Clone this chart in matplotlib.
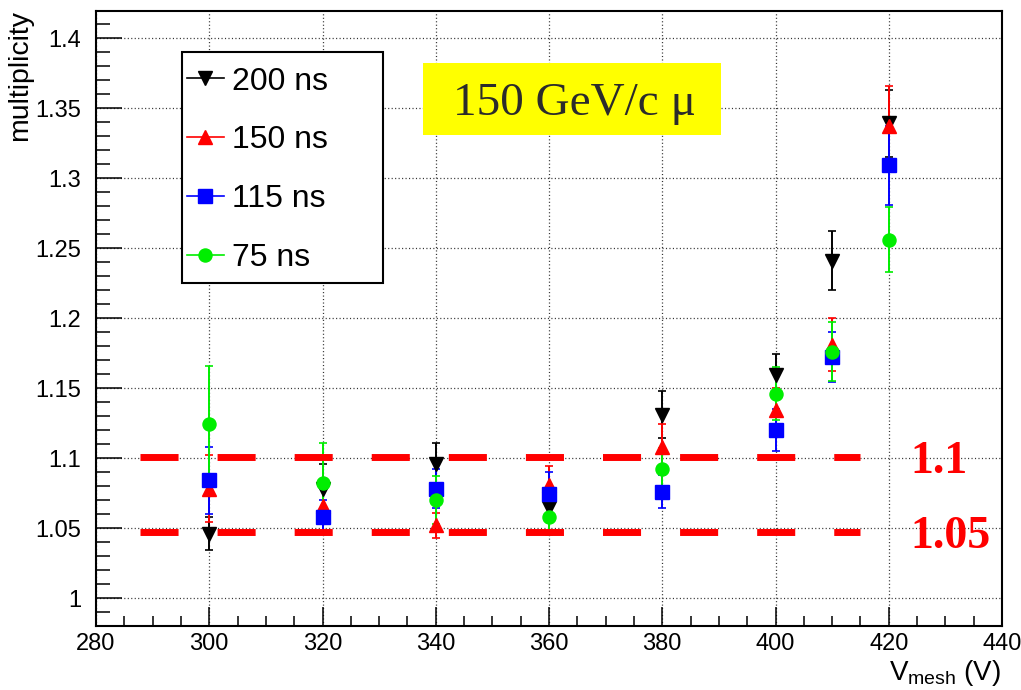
import matplotlib
matplotlib.use('Agg')
import matplotlib.pyplot as plt
from matplotlib.lines import Line2D
from matplotlib.patches import Rectangle
from matplotlib.ticker import MultipleLocator, FuncFormatter

plt.rcParams['font.family'] = ['Liberation Sans', 'DejaVu Sans']
plt.rcParams['mathtext.fontset'] = 'custom'
plt.rcParams['mathtext.rm'] = 'Liberation Sans'
plt.rcParams['mathtext.it'] = 'Liberation Sans:italic'
plt.rcParams['lines.scale_dashes'] = False

# ---------------- data ----------------
vmesh = [300, 320, 340, 360, 380, 400, 410, 420]

labels = ['200 ns', '150 ns', '115 ns', '75 ns']
colors = ['#000000', '#ff0000', '#0000ff', '#00ee00']
markers = ['v', '^', 's', 'o']

mult_200 = [1.046, 1.078, 1.096, 1.064, 1.131, 1.159, 1.241, 1.339]
err_200 = [0.012, 0.018, 0.015, 0.010, 0.017, 0.015, 0.021, 0.024]

mult_150 = [1.078, 1.066, 1.052, 1.081, 1.108, 1.134, 1.181, 1.337]
err_150 = [0.024, 0.018, 0.009, 0.013, 0.016, 0.016, 0.019, 0.029]

mult_115 = [1.084, 1.058, 1.078, 1.074, 1.076, 1.120, 1.172, 1.309]
err_115 = [0.024, 0.012, 0.014, 0.016, 0.012, 0.015, 0.018, 0.028]

mult_75 = [1.124, 1.082, 1.070, 1.058, 1.092, 1.146, 1.176, 1.256]
err_75 = [0.042, 0.029, 0.017, 0.013, 0.015, 0.019, 0.021, 0.023]

values = [mult_200, mult_150, mult_115, mult_75]
errors = [err_200, err_150, err_115, err_75]

ref_levels = [1.101, 1.047]
ref_labels = ['1.1', '1.05']
ref_xrange = [287.8, 415.0]

beam_text = '150 GeV/c \u03bc'

# ---------------- figure ----------------
W, H = 1021, 690
fig = plt.figure(figsize=(W / 100, H / 100), dpi=100)
ax = fig.add_axes([96 / W, 1 - 626 / H, (1002 - 96) / W, (626 - 11) / H])

ax.set_xlim(280, 440)
ax.set_ylim(0.98, 1.4193)

for vals, errs, c, m in zip(values, errors, colors, markers):
    ax.errorbar(vmesh, vals, yerr=errs, fmt=m, color=c, mfc=c, mec=c,
                ms=9.4, elinewidth=1.4, capsize=2.6, capthick=1.2,
                linestyle='none', zorder=3)

for lvl in ref_levels:
    ax.plot(ref_xrange, [lvl, lvl], color='#ff0000', lw=5.0,
            dashes=(27.4, 28.1), dash_capstyle='butt', solid_capstyle='butt',
            zorder=4)

# axes styling
ax.xaxis.set_major_locator(MultipleLocator(20))
ax.xaxis.set_minor_locator(MultipleLocator(5))
ax.yaxis.set_major_locator(MultipleLocator(0.05))
ax.yaxis.set_minor_locator(MultipleLocator(0.01))
ax.yaxis.set_major_formatter(FuncFormatter(lambda v, p: '%g' % round(v, 3)))

ax.grid(True, which='major', color='#333333', linestyle=(0, (0.8, 1.7)),
        linewidth=0.9, zorder=0)
ax.set_axisbelow(True)

ax.tick_params(axis='y', which='major', direction='in', length=19, width=1.1,
               labelsize=17, pad=10.5)
ax.tick_params(axis='y', which='minor', direction='in', length=10, width=1.1)
ax.tick_params(axis='x', which='major', direction='in', length=13.7, width=1.1,
               labelsize=17, pad=5)
ax.tick_params(axis='x', which='minor', direction='in', length=7.2, width=1.1)
for s in ax.spines.values():
    s.set_linewidth(1.5)

# axis titles
fig.text(20 / W, 1 - 10 / H, 'multiplicity', rotation=90, ha='center',
         va='top', fontsize=20.5)
fig.text(1001 / W, 1 - 680 / H, r'V$_{\mathrm{mesh}}$ (V)', ha='right',
         va='baseline', fontsize=20)

# legend (frame drawn separately)
fig.patches.append(Rectangle((182 / W, 1 - 283 / H), (383 - 182) / W,
                             (283 - 52) / H, transform=fig.transFigure,
                             facecolor='white', edgecolor='black',
                             linewidth=1.5, zorder=5))
handles = [Line2D([], [], color=c, marker=m, markersize=9.4, lw=1.2,
                  mfc=c, mec=c) for c, m in zip(colors, markers)]
leg = fig.legend(handles, labels, loc='upper left',
                 bbox_to_anchor=(187 / W, 1 - 66.6 / H),
                 bbox_transform=fig.transFigure, borderaxespad=0,
                 fontsize=23, handlelength=1.15, handletextpad=0.25,
                 borderpad=0, labelspacing=0.9, frameon=False)
leg.set_zorder(6)

# beam label
fig.patches.append(Rectangle((423 / W, 1 - 135 / H), (721 - 423) / W,
                             (135 - 63) / H, transform=fig.transFigure,
                             facecolor='#ffff00', edgecolor='none', zorder=5))
fig.text(574 / W, 1 - 115 / H, beam_text, ha='center', va='baseline',
         fontsize=34, family=['Liberation Serif', 'DejaVu Serif'],
         color='#2b2b2b', zorder=6)

# reference value labels
for lvl, txt, base in zip(ref_levels, ref_labels, [473, 548]):
    fig.text(910 / W, 1 - base / H, txt, ha='left', va='baseline',
             fontsize=33, fontweight='bold',
             family=['Liberation Serif', 'DejaVu Serif'], color='#ff0000')

fig.savefig('out.png', dpi=100)
